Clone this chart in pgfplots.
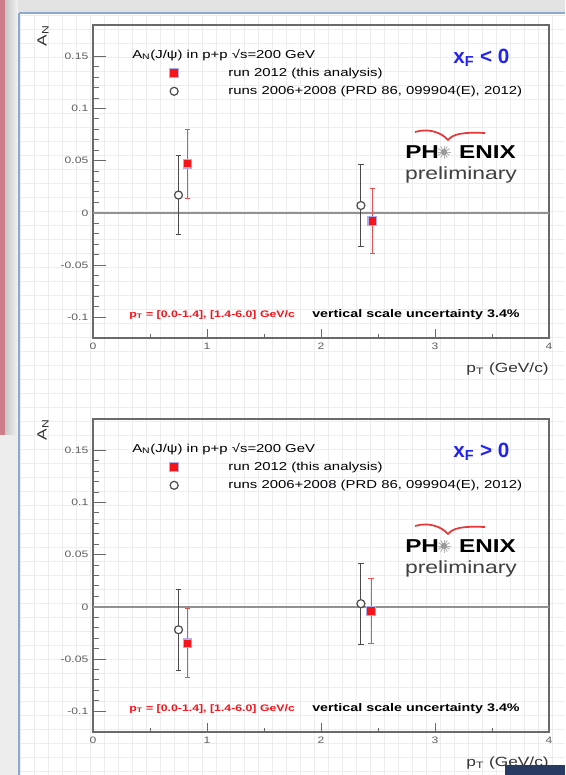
\documentclass[border=0pt]{standalone}
\usepackage{fontspec}
\setmainfont{Liberation Sans}[FakeStretch=1.3]
\newfontfamily\plainsans{Liberation Sans}
\usepackage{pgfplots}
\usepackage{pgfplotstable}
\pgfplotsset{compat=1.18}

\definecolor{rootred}{RGB}{245,20,25}
\definecolor{barred}{RGB}{232,80,80}
\definecolor{bargray}{RGB}{75,75,75}
\definecolor{halo}{RGB}{175,175,235}
\definecolor{framegray}{RGB}{105,105,105}
\definecolor{zerogray}{RGB}{145,145,145}
\definecolor{ticklab}{RGB}{95,95,95}
\definecolor{xfblue}{RGB}{35,35,240}
\definecolor{slideblue}{RGB}{140,170,205}
\definecolor{gridline}{RGB}{234,237,242}
\definecolor{pinkstrip}{RGB}{205,125,138}
\definecolor{navy}{RGB}{38,58,98}
\definecolor{logored}{RGB}{232,55,55}

% x_F < 0
\pgfplotstableread{
x    y      e
0.83 0.047  0.033
2.45 -0.008 0.031
}\newneg
\pgfplotstableread{
x    y      e
0.75 0.017  0.038
2.35 0.007  0.039
}\oldneg
% x_F > 0
\pgfplotstableread{
x    y      e
0.83 -0.035 0.033
2.44 -0.004 0.031
}\newpos
\pgfplotstableread{
x    y      e
0.75 -0.022 0.039
2.35 0.003  0.039
}\oldpos

\pgfplotsset{
  rootpanel/.style={
    scale only axis, width=342pt, height=234.75pt,
    xmin=0, xmax=4, ymin=-0.12, ymax=0.18,
    xtick={0,1,2,3,4}, ytick={-0.1,-0.05,0,0.05,0.1,0.15},
    minor x tick num=1, minor y tick num=4,
    tick align=inside, xtick pos=bottom, ytick pos=left,
    x tick style={/pgfplots/major tick length=7pt,/pgfplots/minor tick length=3pt},
    y tick style={/pgfplots/major tick length=10pt,/pgfplots/minor tick length=4.5pt},
    every tick/.append style={framegray, line width=0.7pt},
    axis line style={framegray, line width=1.1pt},
    tick label style={font=\fontsize{7}{8}\selectfont, text=ticklab},
    /pgf/number format/assume math mode=true,
    scaled y ticks=false,
    yticklabel style={/pgf/number format/fixed},
    clip=false,
    legend style={at={(0.168,0.864)}, anchor=north west, draw=none, fill=none,
      font=\fontsize{8.6}{10}\selectfont, inner sep=0pt, column sep=37.5pt,
      row sep=6pt, nodes={inner sep=0pt}},
    legend cell align=left,
  },
  newset/.style={only marks, mark=square*, mark size=3.2pt,
    mark options={fill=rootred, draw=halo, line width=0.9pt},
    error bars/.cd, y dir=both, y explicit, error mark=-,
    error bar style={barred, line width=0.7pt},
    error mark options={rotate=90, barred, mark size=2pt, line width=0.7pt}},
  oldset/.style={only marks, mark=*, mark size=3pt,
    mark options={fill=white, draw=bargray, line width=0.9pt},
    error bars/.cd, y dir=both, y explicit, error mark=-,
    error bar style={bargray, line width=0.7pt},
    error mark options={rotate=90, bargray, mark size=2pt, line width=0.7pt}},
}

% texts of one panel, #1 = vertical offset in px, #2 = relation sign
\newcommand\panelnotes[2]{%
\begin{scope}[x=0.75pt, y=-0.75pt, shift={(0,#1)}]
  \node[anchor=west, inner sep=0pt, font=\fontsize{8.6}{10}\selectfont]
    at (132,55) {A\textsubscript{N}(J/ψ) in p+p √s=200 GeV};
  \node[anchor=west, inner sep=0pt, text=xfblue,
    font=\plainsans\bfseries\fontsize{15.5}{17}\selectfont]
    at (453,58) {x\textsubscript{F} #2 0};
  % PHENIX preliminary logo
  \draw[logored, line width=1.3pt] (415,132) .. controls (428,128) and (441,132) .. (448,140)
    .. controls (453,134) and (462,132) .. (485,133);
  \node[anchor=west, inner sep=0pt, font=\bfseries\fontsize{14}{16}\selectfont] at (405,152) {PH};
  \node[anchor=east, inner sep=0pt, font=\bfseries\fontsize{14}{16}\selectfont] at (516,152) {ENIX};
  \foreach \a in {0,30,...,330} \draw[black!30, line width=0.7pt] (444,152) -- ++(\a:6.5);
  \fill[black!40] (444,152) circle (3);
  \node[inner sep=0pt, text=black!75, font=\fontsize{13.2}{15}\selectfont] at (461,175) {preliminary};
  % bottom notes
  \node[anchor=west, inner sep=0pt, text=rootred, font=\bfseries\fontsize{7.1}{8}\selectfont]
    at (129,315) {p\textsubscript{T} = [0.0-1.4], [1.4-6.0] GeV/c};
  \node[anchor=west, inner sep=0pt, font=\bfseries\fontsize{8.25}{9}\selectfont]
    at (312,315) {vertical scale uncertainty 3.4\%};
  % axis titles
  \node[anchor=east, inner sep=0pt, text=black!80, font=\fontsize{10}{12}\selectfont]
    at (549,369) {p\textsubscript{T} (GeV/c)};
  \node[rotate=90, inner sep=0pt, text=black!80, font=\fontsize{10}{12}\selectfont]
    at (43,36) {A\textsubscript{N}};
\end{scope}}

\begin{document}
\begin{tikzpicture}
\begin{scope}[x=0.75pt, y=-0.75pt]
  \path[use as bounding box] (0,0) rectangle (565,775);
  \fill[white] (0,0) rectangle (565,775);
  \foreach \gx in {20,34,...,565} \draw[gridline, line width=0.4pt] (\gx,15) -- (\gx,775);
  \foreach \gy in {15,29,...,775} \draw[gridline, line width=0.4pt] (20,\gy) -- (565,\gy);
  \fill[black!11] (0,0) rectangle (565,12);
  \shade[left color=black!22, right color=black!5] (5,0) rectangle (18,435);
  \fill[pinkstrip] (0,0) rectangle (5,435);
  \fill[black!7] (0,435) rectangle (18,775);
  \draw[slideblue, line width=1.2pt] (19,13) -- (565,13);
  \draw[slideblue, line width=1.2pt] (19,13) -- (19,775);
\end{scope}

% x_F < 0
\begin{axis}[rootpanel, at={(69.75pt,-253.5pt)}, anchor=south west]
\addplot[zerogray, line width=1.5pt, forget plot] coordinates {(0,0) (4,0)};
\addplot[newset] table[x=x, y=y, y error=e] {\newneg};
\addlegendentry{run 2012 (this analysis)}
\addplot[oldset] table[x=x, y=y, y error=e] {\oldneg};
\addlegendentry{runs 2006+2008 (PRD 86, 099904(E), 2012)}
\end{axis}
\panelnotes{0}{<}

% x_F > 0
\begin{axis}[rootpanel, at={(69.75pt,-549pt)}, anchor=south west]
\addplot[zerogray, line width=1.5pt, forget plot] coordinates {(0,0) (4,0)};
\addplot[newset] table[x=x, y=y, y error=e] {\newpos};
\addlegendentry{run 2012 (this analysis)}
\addplot[oldset] table[x=x, y=y, y error=e] {\oldpos};
\addlegendentry{runs 2006+2008 (PRD 86, 099904(E), 2012)}
\end{axis}
\panelnotes{394}{>}

\begin{scope}[x=0.75pt, y=-0.75pt]
  \fill[navy] (505,765) rectangle (565,775);
\end{scope}
\end{tikzpicture}
\end{document}
